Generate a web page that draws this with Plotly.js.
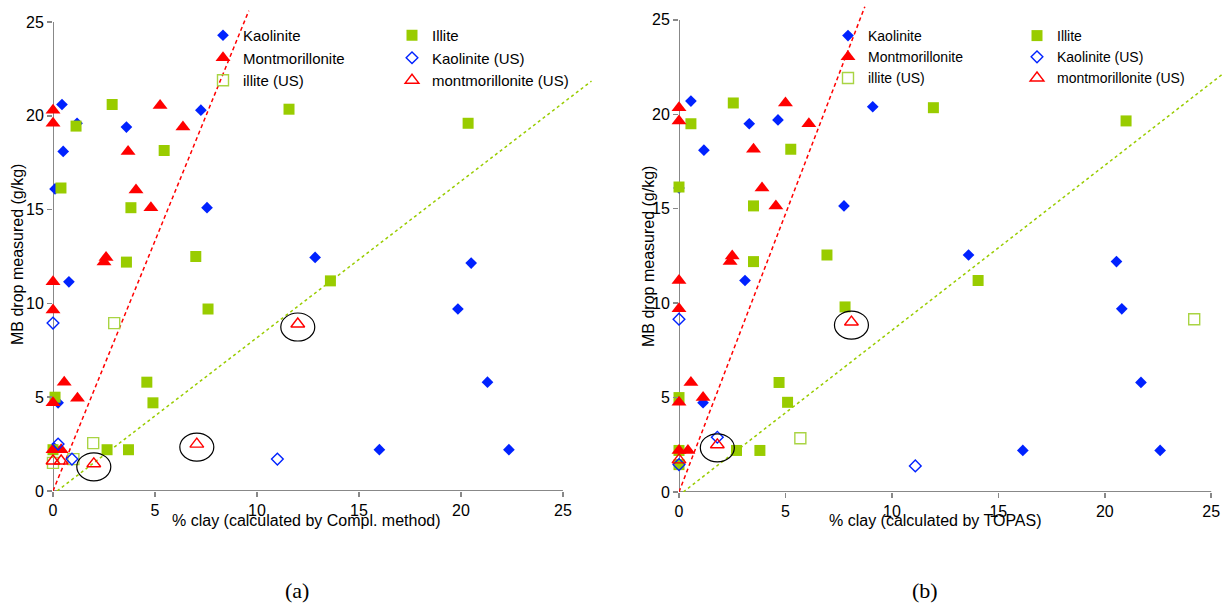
<!DOCTYPE html>
<html>
<head>
<meta charset="utf-8">
<script src="https://cdn.plot.ly/plotly-3.0.1.min.js"></script>
<style>html,body{margin:0;padding:0;background:#fff}#chart{width:1231px;height:610px}</style>
</head>
<body>
<div id="chart"></div>
<script>
// ---------- data ----------
// (a) % clay calculated by Compl. method
const kaoA_x = [0.44, 1.18, 3.6, 7.25, 0.5, 0.1, 7.55, 0.78, 12.85, 0.25, 20.5, 19.85, 21.3, 16.0, 22.35, 0.05];
const kaoA_y = [20.6, 19.6, 19.4, 20.3, 18.1, 16.1, 15.1, 11.15, 12.45, 4.7, 12.15, 9.7, 5.8, 2.2, 2.2, 2.3];
const illA_x = [2.9, 1.13, 5.45, 11.57, 0.39, 3.82, 20.35, 3.6, 7.0, 13.6, 7.6, 4.6, 4.9, 0.1, 2.65, 3.7, 0];
const illA_y = [20.6, 19.45, 18.15, 20.35, 16.15, 15.1, 19.6, 12.2, 12.5, 11.2, 9.7, 5.8, 4.7, 5.0, 2.2, 2.2, 2.2];
const monA_x = [0, 0, 5.25, 6.37, 3.68, 4.07, 4.8, 2.6, 2.5, 0, 0, 0.55, 1.2, 0, 0, 0.4];
const monA_y = [20.3, 19.6, 20.55, 19.4, 18.1, 16.05, 15.1, 12.45, 12.2, 11.15, 9.65, 5.8, 4.95, 4.7, 2.2, 2.2];
const illUSA_x = [3.0, 1.97, 1.0, 0];
const illUSA_y = [8.95, 2.55, 1.7, 1.5];
const kaoUSA_x = [0, 0.25, 0.93, 11.0];
const kaoUSA_y = [8.95, 2.5, 1.7, 1.7];
const monUSA_x = [12.0, 7.05, 2.0, 0, 0.4];
const monUSA_y = [8.9, 2.5, 1.45, 1.6, 1.6];
const redLineA_x = [0, 9.6], redLineA_y = [0, 25.6];
const greenLineA_x = [0.2, 26.4], greenLineA_y = [0, 21.85];

// (b) % clay calculated by TOPAS
const kaoB_x = [0.56, 1.17, 3.3, 4.65, 9.1, 7.75, 3.1, 1.13, 13.6, 20.55, 20.8, 21.7, 16.15, 22.6, 0];
const kaoB_y = [20.7, 18.1, 19.5, 19.7, 20.4, 15.15, 11.2, 4.73, 12.55, 12.2, 9.7, 5.8, 2.2, 2.2, 16.1];
const illB_x = [2.55, 0.56, 5.25, 0, 3.5, 11.95, 21.0, 3.5, 6.95, 7.8, 4.7, 5.1, 0, 2.7, 3.8, 0, 0, 14.05];
const illB_y = [20.6, 19.5, 18.15, 16.15, 15.15, 20.35, 19.65, 12.2, 12.55, 9.8, 5.8, 4.75, 5.0, 2.2, 2.2, 2.2, 1.45, 11.2];
const monB_x = [0, 0, 5.0, 6.1, 3.5, 3.9, 4.55, 2.5, 2.4, 0, 0, 0.56, 1.13, 0, 0, 0.42];
const monB_y = [20.35, 19.65, 20.6, 19.5, 18.15, 16.1, 15.15, 12.5, 12.2, 11.2, 9.7, 5.8, 5.0, 4.75, 2.2, 2.2];
const illUSB_x = [24.2, 5.7];
const illUSB_y = [9.15, 2.85];
const kaoUSB_x = [0, 1.8, 0, 11.1];
const kaoUSB_y = [9.15, 2.9, 1.45, 1.38];
const monUSB_x = [8.1, 1.8, 0];
const monUSB_y = [9.0, 2.5, 1.7];
const redLineB_x = [0, 8.73], redLineB_y = [0, 25.7];
const greenLineB_x = [0.2, 25.5], greenLineB_y = [0, 22.1];

const seriesNames = ['Kaolinite', 'Illite', 'Montmorillonite', 'illite (US)', 'Kaolinite (US)', 'montmorillonite (US)'];
const xTitles = ['% clay (calculated by Compl. method)', '% clay (calculated by TOPAS)'];
const yTitle = 'MB drop measured (g/kg)';
const panelLabels = ['(a)', '(b)'];
const axisTicks = [0, 5, 10, 15, 20, 25];

// ---------- styling / layout ----------
const W = 1231, H = 610;
const fx = p => p / W, fy = p => (H - p) / H;
const BLUE = '#0022FF', RED = '#FF0000', GREEN = '#99CC00', LGREEN = '#A9D443';
const FONT = 'Liberation Sans, Arial, sans-serif';

const styles = [
  {symbol: 'diamond', size: 9, color: BLUE, leg: 0},
  {symbol: 'square', size: 11, color: GREEN, leg: 1},
  {symbol: 'triangle-up', size: 13, color: RED, leg: 0},
  {symbol: 'square-open', size: 11, color: LGREEN, leg: 0, open: true},
  {symbol: 'diamond-open', size: 9, color: BLUE, leg: 1, open: true},
  {symbol: 'triangle-up-open', size: 12, color: RED, leg: 1, open: true}
];

const panels = [
  {xs: [kaoA_x, illA_x, monA_x, illUSA_x, kaoUSA_x, monUSA_x],
   ys: [kaoA_y, illA_y, monA_y, illUSA_y, kaoUSA_y, monUSA_y],
   red: [redLineA_x, redLineA_y], green: [greenLineA_x, greenLineA_y],
   xa: 'x', ya: 'y', legs: ['legend', 'legend2']},
  {xs: [kaoB_x, illB_x, monB_x, illUSB_x, kaoUSB_x, monUSB_x],
   ys: [kaoB_y, illB_y, monB_y, illUSB_y, kaoUSB_y, monUSB_y],
   red: [redLineB_x, redLineB_y], green: [greenLineB_x, greenLineB_y],
   xa: 'x2', ya: 'y2', legs: ['legend3', 'legend4']}
];

const traces = [];
const shapes = [];
panels.forEach((p, pi) => {
  traces.push({x: p.red[0], y: p.red[1], xaxis: p.xa, yaxis: p.ya, mode: 'lines', showlegend: false,
    line: {color: RED, width: 1.5, dash: '4px,3px'}, hoverinfo: 'skip'});
  traces.push({x: p.green[0], y: p.green[1], xaxis: p.xa, yaxis: p.ya, mode: 'lines', showlegend: false,
    line: {color: GREEN, width: 1.5, dash: '3px,3px'}, hoverinfo: 'skip'});
  styles.forEach((s, si) => {
    traces.push({
      x: p.xs[si], y: p.ys[si], xaxis: p.xa, yaxis: p.ya, mode: 'markers', type: 'scatter',
      name: seriesNames[si], legend: p.legs[s.leg], cliponaxis: false,
      marker: {symbol: s.symbol, size: s.size, color: s.color,
        line: {color: s.color, width: s.open ? 1.4 : 0}}
    });
  });
  // ellipses around the highlighted montmorillonite (US) samples
  const mx = p.xs[5], my = p.ys[5];
  mx.forEach((v, i) => {
    if (v > 1) {
      shapes.push({type: 'circle', xref: p.xa, yref: p.ya, xsizemode: 'pixel', ysizemode: 'pixel',
        xanchor: v, yanchor: my[i], x0: -17, x1: 17, y0: -17, y1: 11,
        line: {color: '#000', width: 1.2}, layer: 'above'});
    }
  });
  // axis lines, drawn from 0 to the last tick
  const last = axisTicks[axisTicks.length - 1];
  shapes.push({type: 'line', xref: p.xa, yref: p.ya, x0: 0, x1: last, y0: 0, y1: 0,
    line: {color: '#888', width: 2}, layer: 'below'});
  shapes.push({type: 'line', xref: p.xa, yref: p.ya, x0: 0, x1: 0, y0: 0, y1: last,
    line: {color: '#888', width: 2}, layer: 'below'});
});

const axBase = {showgrid: false, zeroline: false, showline: false, ticks: 'outside', ticklen: 5,
  tickwidth: 1.5, tickcolor: '#888', tickvals: axisTicks, tickfont: {family: FONT, size: 16, color: '#000'},
  fixedrange: true};

const legBase = (x, y, size) => ({x: x, y: y, xanchor: 'left', yanchor: 'top', bgcolor: 'rgba(0,0,0,0)',
  borderwidth: 0, font: {family: FONT, size: size, color: '#000'}, traceorder: 'normal', itemwidth: 30});

const ann = (txt, x, y, size, family, angle) => ({text: txt, xref: 'paper', yref: 'paper', x: fx(x), y: fy(y),
  xanchor: 'center', yanchor: 'middle', showarrow: false, textangle: angle || 0,
  font: {family: family || FONT, size: size, color: '#000'}});

const layout = {
  width: W, height: H, margin: {l: 0, r: 0, t: 0, b: 0},
  paper_bgcolor: '#fff', plot_bgcolor: 'rgba(0,0,0,0)',
  xaxis: Object.assign({}, axBase, {domain: [fx(53), fx(595.6)], range: [0, 26.6], anchor: 'y'}),
  yaxis: Object.assign({}, axBase, {domain: [fy(491), fy(3.2)], range: [0, 26], anchor: 'x'}),
  xaxis2: Object.assign({}, axBase, {domain: [fx(679), fx(1224)], range: [0, 25.6], anchor: 'y2'}),
  yaxis2: Object.assign({}, axBase, {domain: [fy(492), fy(1)], range: [0, 26], anchor: 'x2'}),
  legend: legBase(fx(203), fy(19), 15),
  legend2: legBase(fx(392), fy(19), 15),
  legend3: legBase(fx(828), fy(20), 14),
  legend4: legBase(fx(1017), fy(20), 14),
  shapes: shapes,
  annotations: [
    ann(xTitles[0], 306, 520, 16),
    ann(xTitles[1], 935, 520, 16),
    ann(yTitle, 17, 255, 16, FONT, -90),
    ann(yTitle, 648, 257, 16, FONT, -90),
    ann(panelLabels[0], 297, 590, 22, 'Liberation Serif, Times New Roman, serif'),
    ann(panelLabels[1], 925, 590, 22, 'Liberation Serif, Times New Roman, serif')
  ],
  showlegend: true
};

Plotly.newPlot('chart', traces, layout, {displayModeBar: false, staticPlot: true});
</script>
</body>
</html>
